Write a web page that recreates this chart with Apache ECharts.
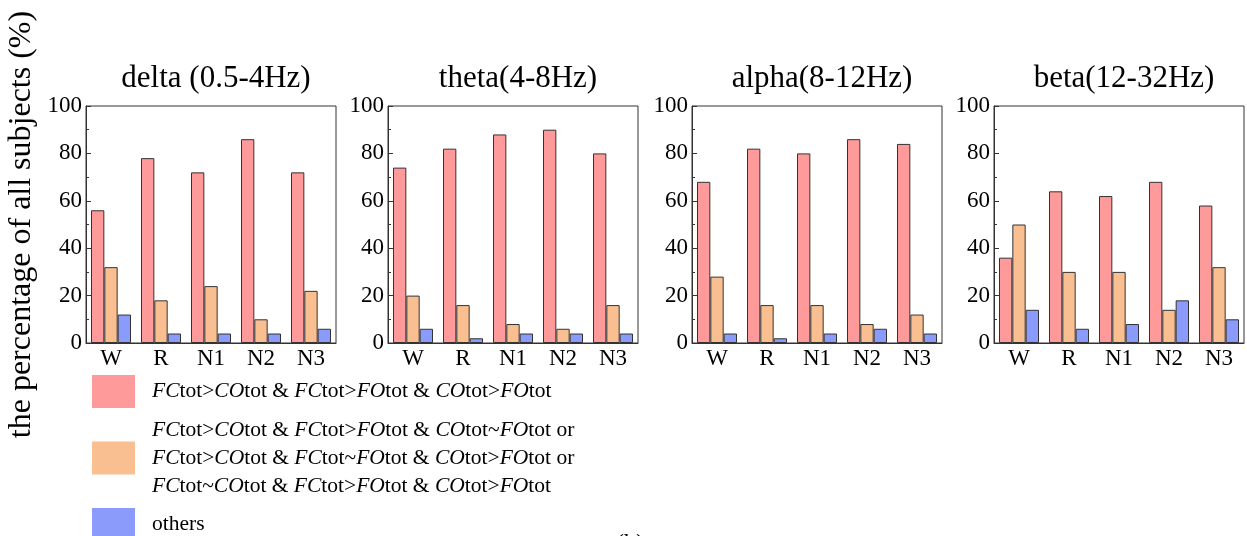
<!DOCTYPE html>
<html>
<head>
<meta charset="utf-8">
<script src="https://cdn.jsdelivr.net/npm/echarts@6/dist/echarts.min.js"></script>
<style>
  html, body { margin: 0; padding: 0; background: #fff; }
  #main { width: 1247px; height: 536px; }
</style>
</head>
<body>
<div id="main"></div>
<script>
// sleep stages on the x axis
const stages = ['W', 'R', 'N1', 'N2', 'N3']
const bands = ['delta (0.5-4Hz)', 'theta(4-8Hz)', 'alpha(8-12Hz)', 'beta(12-32Hz)']
const seriesNames = ['case1', 'case2', 'others']

// percentages, one array per band and case
const deltaCase1 = [56, 78, 72, 86, 72]
const deltaCase2 = [32, 18, 24, 10, 22]
const deltaOthers = [12, 4, 4, 4, 6]
const thetaCase1 = [74, 82, 88, 90, 80]
const thetaCase2 = [20, 16, 8, 6, 16]
const thetaOthers = [6, 2, 4, 4, 4]
const alphaCase1 = [68, 82, 80, 86, 84]
const alphaCase2 = [28, 16, 16, 8, 12]
const alphaOthers = [4, 2, 4, 6, 4]
const betaCase1 = [36, 64, 62, 68, 58]
const betaCase2 = [50, 30, 30, 14, 32]
const betaOthers = [14, 6, 8, 18, 10]

const bandData = [
  [deltaCase1, deltaCase2, deltaOthers],
  [thetaCase1, thetaCase2, thetaOthers],
  [alphaCase1, alphaCase2, alphaOthers],
  [betaCase1, betaCase2, betaOthers]
]

const colors = ['#fe9a9a', '#f9bf91', '#8b9bfc']
const font = 'Liberation Serif'
const gridLefts = [86, 388, 692, 994]
const gridW = 250

// legend label text, italic parts in {i|..}
const legendText = {
  case1: '{i|FC}tot>{i|CO}tot & {i|FC}tot>{i|FO}tot & {i|CO}tot>{i|FO}tot',
  case2: '{i|FC}tot>{i|CO}tot & {i|FC}tot>{i|FO}tot & {i|CO}tot~{i|FO}tot or\n' +
         '{i|FC}tot>{i|CO}tot & {i|FC}tot~{i|FO}tot & {i|CO}tot>{i|FO}tot or\n' +
         '{i|FC}tot~{i|CO}tot & {i|FC}tot>{i|FO}tot & {i|CO}tot>{i|FO}tot',
  others: 'others'
}

let grids = []
let xAxes = []
let yAxes = []
let titles = []
let series = []

bands.forEach(function (band, k) {
  grids.push({
    left: gridLefts[k], top: 106, width: gridW, height: 237,
    show: true, borderColor: '#333', borderWidth: 1, backgroundColor: 'transparent'
  })
  titles.push({
    text: band,
    left: gridLefts[k] + gridW / 2,
    textAlign: 'center',
    top: 58,
    textStyle: { fontFamily: font, fontSize: 31, fontWeight: 'normal', color: '#000' }
  })
  xAxes.push({
    type: 'category', gridIndex: k, data: stages,
    axisLine: { lineStyle: { color: '#333', width: 1 } },
    axisTick: { inside: true, alignWithLabel: true, length: 5, lineStyle: { color: '#333' } },
    axisLabel: { fontFamily: font, fontSize: 23, color: '#000', margin: 4 }
  })
  yAxes.push({
    type: 'value', gridIndex: k, min: 0, max: 100, interval: 20,
    name: k === 0 ? 'the percentage of all subjects (%)' : '',
    nameLocation: 'middle', nameGap: 48,
    nameTextStyle: { fontFamily: font, fontSize: 32, color: '#000' },
    axisLine: { show: true, lineStyle: { color: '#333', width: 1 } },
    axisTick: { show: true, inside: true, length: 5, lineStyle: { color: '#333' } },
    minorTick: { show: true, splitNumber: 2, length: 3, lineStyle: { color: '#333' } },
    splitLine: { show: false },
    axisLabel: { fontFamily: font, fontSize: 23, color: '#000', margin: 4 }
  })
  bandData[k].forEach(function (vals, j) {
    series.push({
      name: seriesNames[j], type: 'bar', xAxisIndex: k, yAxisIndex: k,
      data: vals, barGap: '0%', barCategoryGap: '20%',
      itemStyle: { color: colors[j], borderColor: '#333', borderWidth: 1 },
      emphasis: { disabled: true }
    })
  })
})

let chart = echarts.init(document.getElementById('main'))
chart.setOption({
  animation: false,
  color: colors,
  title: titles,
  grid: grids,
  xAxis: xAxes,
  yAxis: yAxes,
  legend: {
    orient: 'vertical', left: 92, top: 375, height: 200, padding: 0,
    itemWidth: 43, itemHeight: 33, itemGap: 8,
    icon: 'rect',
    itemStyle: { borderWidth: 0 },
    data: seriesNames,
    formatter: function (name) { return legendText[name] },
    textStyle: {
      fontFamily: font, fontSize: 21.5, lineHeight: 28, color: '#000', padding: [0, 0, 0, 12],
      rich: { i: { fontFamily: font, fontSize: 21.5, lineHeight: 28, fontStyle: 'italic', color: '#000' } }
    }
  },
  graphic: [{
    type: 'text', left: 616, top: 532,
    style: { text: '(b)', font: '24px "Liberation Serif"', fill: '#000' }
  }],
  series: series
})
</script>
</body>
</html>
